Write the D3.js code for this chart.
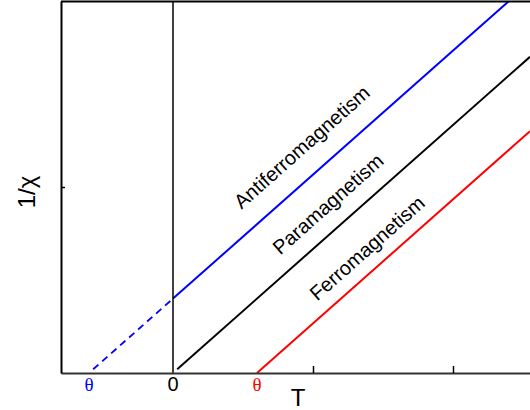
<!DOCTYPE html>
<html>
<head>
<meta charset="utf-8">
<script src="https://cdn.jsdelivr.net/npm/d3@7"></script>
<style>
  html, body { margin: 0; padding: 0; background: #fff; }
  svg { display: block; }
  text { font-family: "Liberation Sans", Arial, sans-serif; }
</style>
</head>
<body>
<svg id="chart" width="530" height="410"></svg>
<script>
// Inverse susceptibility 1/chi versus temperature T (Curie-Weiss behaviour)
const xDomain = [-0.8, 2.55];
const yDomain = [0, 2];
const xTickValues = [1, 2];
const yTickValues = [1];

// Labels written under the T axis: Weiss temperatures and origin
const thetaLabels = [
  { t: -0.6, text: "θ", color: "#0000ff", serif: true },
  { t: 0, text: "0", color: "#000000", serif: false },
  { t: 0.6, text: "θ", color: "#ff0000", serif: true }
];

// Line end points [T, 1/chi]
const antiferroSolid = [[0, 0.40], [2.40, 2.00]];
const antiferroDashed = [[-0.57, 0.02], [0, 0.40]];
const paraLine = [[0.03, 0.02], [2.55, 1.70]];
const ferroLine = [[0.60, 0.00], [2.55, 1.30]];

const curveLabels = [
  { text: "Antiferromagnetism", t: 0.92, v: 1.215 },
  { text: "Paramagnetism", t: 1.107, v: 0.909 },
  { text: "Ferromagnetism", t: 1.386, v: 0.672 }
];

const svg = d3.select("#chart");
const plotLeft = 61, plotRight = 530, plotTop = 1, plotBottom = 373;

const x = d3.scaleLinear().domain(xDomain).range([plotLeft, plotRight]);
const y = d3.scaleLinear().domain(yDomain).range([plotBottom, plotTop]);

svg.append("defs").append("clipPath").attr("id", "plot")
  .append("rect").attr("x", plotLeft).attr("y", plotTop)
  .attr("width", plotRight - plotLeft).attr("height", plotBottom - plotTop);

const line = d3.line().x(d => x(d[0])).y(d => y(d[1]));
const plot = svg.append("g").attr("clip-path", "url(#plot)");

plot.append("path").datum(antiferroDashed).attr("d", line)
  .attr("fill", "none").attr("stroke", "#0000ff").attr("stroke-width", 1.8)
  .attr("stroke-dasharray", "7,5");
plot.append("path").datum(antiferroSolid).attr("d", line)
  .attr("fill", "none").attr("stroke", "#0000ff").attr("stroke-width", 2);
plot.append("path").datum(paraLine).attr("d", line)
  .attr("fill", "none").attr("stroke", "#000000").attr("stroke-width", 2);
plot.append("path").datum(ferroLine).attr("d", line)
  .attr("fill", "none").attr("stroke", "#ff0000").attr("stroke-width", 2);

// T = 0 vertical line
svg.append("line")
  .attr("x1", x(0)).attr("x2", x(0)).attr("y1", y(yDomain[1])).attr("y2", y(0))
  .attr("stroke", "#000").attr("stroke-width", 1.5);

// Top border
svg.append("line")
  .attr("x1", plotLeft).attr("x2", plotRight).attr("y1", plotTop + 0.5).attr("y2", plotTop + 0.5)
  .attr("stroke", "#000").attr("stroke-width", 2);

// Axes with inward ticks and no numeric labels
const xAxis = svg.append("g").attr("transform", `translate(0,${plotBottom})`)
  .call(d3.axisBottom(x).tickValues(xTickValues).tickSize(-7).tickSizeOuter(0).tickFormat(""));
const yAxis = svg.append("g").attr("transform", `translate(${plotLeft},0)`)
  .call(d3.axisLeft(y).tickValues(yTickValues).tickSize(-4).tickSizeOuter(0).tickFormat(""));
xAxis.select(".domain").attr("stroke", "#333").attr("stroke-width", 2);
yAxis.select(".domain").attr("stroke", "#000").attr("stroke-width", 2);
svg.selectAll(".tick line").attr("stroke", "#000").attr("stroke-width", 1.5);

// Labels under the T axis
svg.selectAll("text.theta").data(thetaLabels).enter().append("text")
  .attr("class", "theta")
  .attr("x", d => x(d.t))
  .attr("y", 391)
  .attr("text-anchor", "middle")
  .attr("fill", d => d.color)
  .style("font-family", d => d.serif ? "'Liberation Serif', 'DejaVu Serif', serif" : null)
  .style("font-size", d => d.serif ? "19px" : "20px")
  .text(d => d.text);

// Axis titles
svg.append("text").attr("x", 298).attr("y", 406)
  .attr("text-anchor", "middle").style("font-size", "24px").text("T");
svg.append("text")
  .attr("transform", "translate(35,192) rotate(-90)")
  .attr("text-anchor", "middle").style("font-size", "24px").text("1/χ");

// Curve labels aligned with the lines
const angle = -Math.atan((y(0) - y(2 / 3)) / (x(1) - x(0))) * 180 / Math.PI;
svg.selectAll("text.curve").data(curveLabels).enter().append("text")
  .attr("class", "curve")
  .attr("transform", d => `translate(${x(d.t)},${y(d.v)}) rotate(${angle})`)
  .attr("text-anchor", "middle")
  .attr("dy", "0.35em")
  .style("font-size", "20px")
  .text(d => d.text);
</script>
</body>
</html>
